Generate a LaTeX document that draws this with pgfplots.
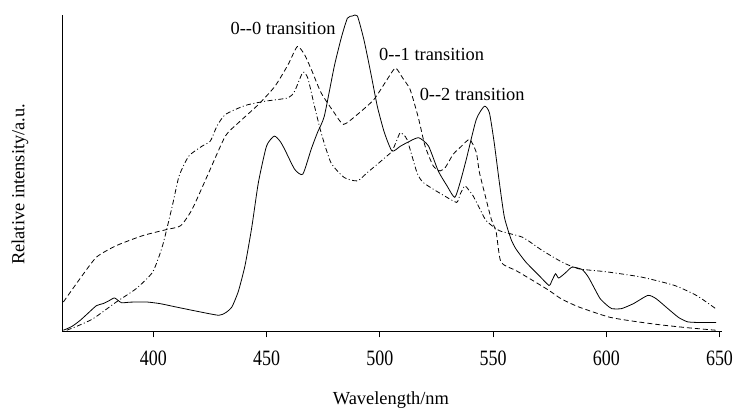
\documentclass[border=0pt]{standalone}
\usepackage{pgfplots}
\pgfplotsset{compat=1.18}
\usepackage{fontspec}
\setmainfont{Liberation Serif}
\begin{document}
\fontsize{18.5bp}{22bp}\selectfont
\begin{tikzpicture}
\begin{axis}[
  at={(0,0)}, anchor=south west,
  scale only axis,
  width=662bp, height=318bp,
  xmin=360, xmax=651, ymin=0, ymax=318,
  axis x line=bottom, axis y line=left,
  axis line style={-, line width=0.9pt},
  xtick={400,450,500,550,600,650},
  ytick=\empty,
  tick align=outside,
  major tick length=6bp,
  tick style={line width=0.8pt, black},
  xticklabel style={font=\fontsize{22bp}{24bp}\selectfont, xscale=0.82, yshift=-7bp},
  /pgf/number format/assume math mode=true,
  xlabel={Wavelength/nm},
  ylabel={Relative intensity/a.u.},
  xlabel style={at={(axis description cs:0.498,-0.217)}, anchor=center, font=\fontsize{18.5bp}{22bp}\selectfont},
  ylabel style={at={(axis description cs:-0.065,0.465)}, anchor=center, rotate=0, font=\fontsize{18.5bp}{22bp}\selectfont},
  clip=false,
  every axis plot/.append style={line width=0.8pt, black, no markers, smooth, tension=0.35},
]
% solid
\addplot[solid] coordinates {
(360.3,1.3)(364,5)(367.6,11)(371,18)(374.9,26)(377.8,28)(380.5,31)(382.9,33.7)(385.9,29)(390,29.5)(396.8,29.7)(403,28)(409.9,24.7)(420,20)(428.9,16.3)(432,19)(434.7,24.7)(437.5,40)(440.5,66.3)(443.5,105)(446.4,149.7)(450,186.3)(453.4,196.3)(456,191)(458,183)(462.4,163)(466,158)(469.7,183)(472.5,200)(475.5,216.3)(479.9,266.3)(483,295)(485.7,314.7)(488,317)(490.1,317)(493,293)(496,260)(498.9,226.3)(502,200)(505.4,181.3)(509,186)(512,189.7)(517.1,194.7)(521.5,186.3)(525.8,161.3)(529.5,147)(533.1,134.7)(535.5,150)(538.2,173)(542.6,213)(546.2,226.3)(548.4,219.7)(550.5,190)(552.8,149.7)(555,115)(557.9,93)(560.1,83)(564.5,69.7)(570.3,56.3)(574.7,46.3)(576,51)(577.6,58)(579,53.7)(582,59)(584.9,64.7)(589.3,62.3)(592,55)(595.1,42)(597.3,33)(600,27)(602.4,23)(606.7,23)(612,28)(618.4,36.3)(622,33)(627.2,23)(632,14)(636,9.7)(642,9)(648.5,9)
};
% dashed
\addplot[dash pattern=on 5bp off 3bp] coordinates {
(360.3,29.7)(367.6,53)(374.9,74.7)(383.7,86.3)(395.3,96.3)(405.6,102.3)(412.1,106.3)(417.2,123)(424.5,159.7)(431.8,196.3)(437.6,209.7)(446.4,228)(453.7,246.3)(459.5,268)(463.6,286.3)(466.8,278)(470,262)(474.1,239.7)(479.9,219.7)(484,208)(490.1,218)(497.4,233)(503.2,253)(506.9,264.7)(510,255)(513.4,243)(517,215)(520,186.3)(523.6,166.3)(526.6,161.3)(529,165)(532.4,178)(536,186)(539.7,193)(542.6,180)(544,159.7)(546.5,137)(549.2,113)(551.4,99.7)(553.5,69.7)(560.1,61.3)(567,52)(574.7,41.3)(580,33)(587.8,24.7)(600.9,14.7)(610,11)(622.8,7)(635,4)(648.3,1.3)
};
% dash-dot
\addplot[dash pattern=on 5bp off 2.5bp on 1bp off 2.5bp] coordinates {
(361.8,1.3)(367,6)(373.5,13)(383.7,29.7)(392.4,43)(399.7,59.7)(404.1,86.3)(408.4,126.3)(411.4,156.3)(415.7,176.3)(421.6,186.3)(425.2,191.3)(428.1,206.3)(431.8,218)(440.5,227)(449.3,231.3)(459.5,234.7)(462.4,241.3)(466,260.3)(468.2,254.7)(471,228)(474.1,199.7)(478.4,169.7)(484.3,154.7)(490.1,151.3)(494.5,159.7)(498.9,168)(503,176)(505.4,181)(507.5,192)(509.1,199.7)(512,193)(516.4,159.7)(519,150)(523.6,143)(528,137)(533.9,129.7)(535.5,138)(537.5,146.3)(539,143)(541.2,136.3)(544,124)(547,111.3)(552.8,101.3)(563,94.7)(571.8,81.3)(580.5,69.7)(587.8,63)(600,60)(615.5,54.7)(630.1,46.3)(640,36)(648.3,23)
};
\node[anchor=center, inner sep=0pt] at (axis cs:457.3,304) {0{-}{-}0 transition};
\node[anchor=center, inner sep=0pt] at (axis cs:522.9,278) {0{-}{-}1 transition};
\node[anchor=center, inner sep=0pt] at (axis cs:540.8,238) {0{-}{-}2 transition};
\end{axis}
\path[use as bounding box] (-63bp,-87bp) rectangle (675bp,333bp);
\end{tikzpicture}
\end{document}
